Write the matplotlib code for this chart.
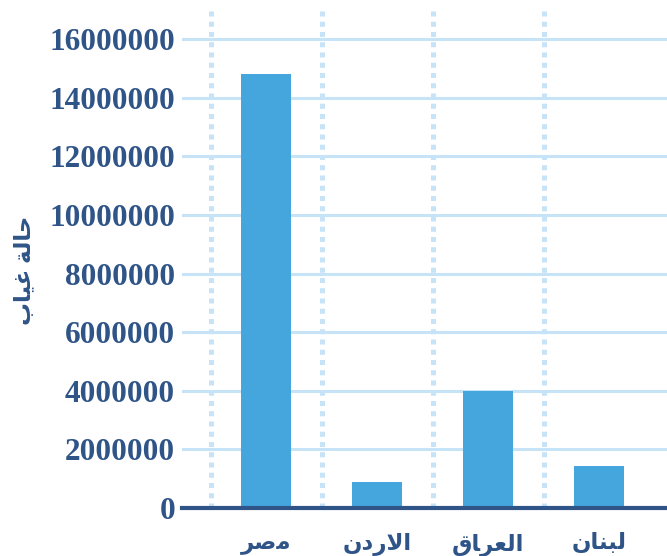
import matplotlib
matplotlib.use("Agg")
import matplotlib.pyplot as plt

# Arabic labels, pre-shaped (presentation forms) and in visual order
countries = ["\uFEAE\uFEBB\uFEE3",                      # مصر
             "\uFEE5\uFEA9\uFEAD\uFEFB\uFE8D",          # الاردن
             "\uFED5\uFE8E\uFEAE\uFECC\uFEDF\uFE8D",    # العراق
             "\uFEE5\uFE8E\uFEE8\uFE92\uFEDF"]          # لبنان
absences = [14800000, 900000, 4000000, 1450000]
yticks = [0, 2000000, 4000000, 6000000, 8000000, 10000000, 12000000, 14000000, 16000000]
ylabel = "\uFE8F\uFE8E\uFEF4\uFECF \uFE94\uFEDF\uFE8E\uFEA3"  # حالة غياب

text_color = "#2F5487"
bar_color = "#45A6DD"
grid_color = "#C6E3F7"
fonts = ["Liberation Serif", "DejaVu Sans"]

fig = plt.figure(figsize=(6.67, 5.56), dpi=100)
ax = fig.add_axes([182 / 667, 1 - 508 / 556, 485 / 667, 498 / 556])

x = list(range(len(countries)))
ax.bar(x, absences, width=0.45, color=bar_color, zorder=3)

ax.set_xlim(-0.757, 3.61)
ax.set_ylim(0, 17000000)

for yt in yticks[1:]:
    ax.axhline(yt, color=grid_color, lw=2.2, zorder=1)
for xv in [-0.5, 0.5, 1.5, 2.5]:
    ax.axvline(xv, color=grid_color, lw=3.6, ls=(0, (1.0, 1.05)), zorder=1)

for s in ["top", "right", "left"]:
    ax.spines[s].set_visible(False)
ax.spines["bottom"].set_color(text_color)
ax.spines["bottom"].set_linewidth(3)
ax.spines["bottom"].set_zorder(4)

ax.set_yticks(yticks)
ax.set_yticklabels([str(v) for v in yticks], family=fonts, fontweight="bold",
                   fontsize=22.5, color=text_color)
ax.set_xticks(x)
ax.set_xticklabels(countries, family=fonts, fontweight="bold",
                   fontsize=16.5, color=text_color)
ax.tick_params(axis="both", length=0)
ax.tick_params(axis="y", pad=5)
ax.tick_params(axis="x", pad=18)

fig.text(25 / 667, 1 - 270 / 556, ylabel, rotation=90, ha="center", va="center",
         family=fonts, fontweight="bold", fontsize=16.5, color=text_color)

fig.savefig("out.png", dpi=100)
